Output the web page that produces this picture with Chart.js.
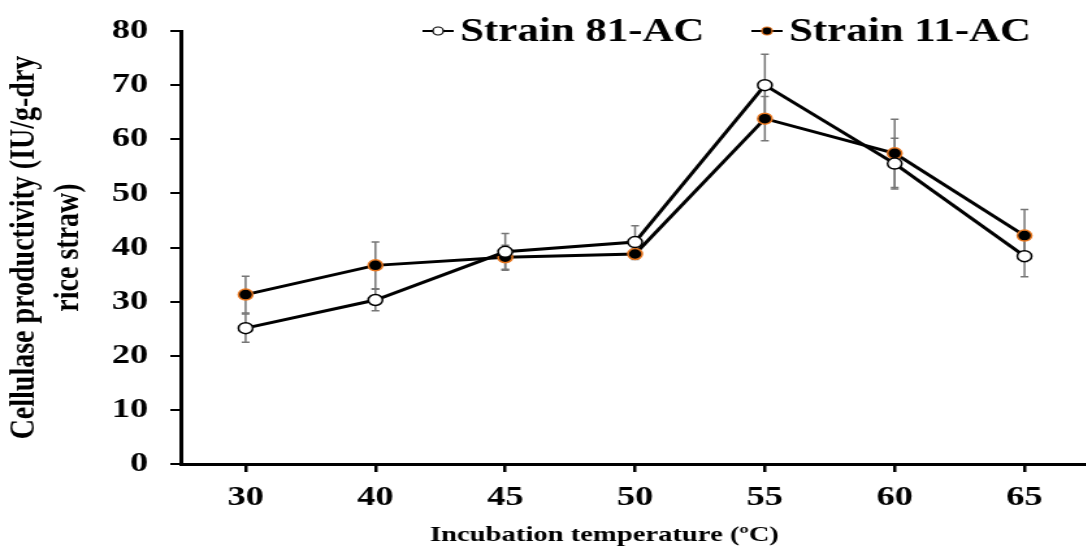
<!DOCTYPE html>
<html>
<head>
<meta charset="utf-8">
<script src="https://cdn.jsdelivr.net/npm/chart.js@4"></script>
<style>
  html, body { margin: 0; padding: 0; background: #fff; overflow: hidden; }
  #wrap { width: 845px; height: 552px; transform: scaleX(1.3); transform-origin: 0 0; }
</style>
</head>
<body>
<div id="wrap"><canvas id="chart" width="845" height="552"></canvas></div>
<script>
const temperatures = ['30', '40', '45', '50', '55', '60', '65'];
const strain81 = [25.1, 30.3, 39.2, 41.0, 70.0, 55.5, 38.4];
const strain81Err = [2.6, 2.0, 3.4, 3.0, 5.7, 4.7, 3.8];
const strain11 = [31.3, 36.7, 38.2, 38.8, 63.8, 57.4, 42.2];
const strain11Err = [3.4, 4.3, 2.2, 1.0, 4.1, 6.3, 4.8];
const yTicks = [0, 10, 20, 30, 40, 50, 60, 70, 80];

const serif = "'Liberation Serif', 'Times New Roman', serif";

// error bars, drawn under the markers
const errorBars = {
  id: 'errorBars',
  beforeDatasetsDraw(chart) {
    const ctx = chart.ctx;
    const x = chart.scales.x;
    const y = chart.scales.y;
    ctx.save();
    ctx.strokeStyle = '#767676';
    ctx.lineWidth = 1.5;
    chart.data.datasets.forEach(ds => {
      ds.data.forEach((v, i) => {
        const px = x.getPixelForValue(i);
        const top = y.getPixelForValue(v + ds.errors[i]);
        const bot = y.getPixelForValue(v - ds.errors[i]);
        ctx.beginPath();
        ctx.moveTo(px, top); ctx.lineTo(px, bot);
        ctx.moveTo(px - 3, top); ctx.lineTo(px + 3, top);
        ctx.moveTo(px - 3, bot); ctx.lineTo(px + 3, bot);
        ctx.stroke();
      });
    });
    ctx.restore();
  }
};

// legend across the top, plus the x axis title
const labelsPlugin = {
  id: 'labels',
  afterDraw(chart) {
    const ctx = chart.ctx;
    ctx.save();
    ctx.fillStyle = '#000';
    ctx.textBaseline = 'middle';
    ctx.font = 'bold 33px ' + serif;
    const starts = [325, 578];
    chart.data.datasets.forEach((ds, i) => {
      const lx = starts[i];
      const ly = 31;
      ctx.strokeStyle = '#000';
      ctx.lineWidth = 2;
      ctx.beginPath();
      ctx.moveTo(lx, ly); ctx.lineTo(lx + 24, ly);
      ctx.stroke();
      ctx.beginPath();
      ctx.arc(lx + 12, ly, 4, 0, Math.PI * 2);
      ctx.fillStyle = ds.pointBackgroundColor;
      ctx.fill();
      ctx.lineWidth = 1.2;
      ctx.strokeStyle = ds.pointBorderColor;
      ctx.stroke();
      ctx.fillStyle = '#000';
      ctx.textAlign = 'left';
      ctx.fillText(ds.label, lx + 29, ly + 1);
    });
    ctx.font = 'bold 22px ' + serif;
    ctx.textAlign = 'center';
    ctx.fillText('Incubation temperature (ºC)', 465, 535);
    ctx.restore();
  }
};

new Chart(document.getElementById('chart'), {
  type: 'line',
  data: {
    labels: temperatures,
    datasets: [
      {
        label: 'Strain 81-AC',
        data: strain81,
        errors: strain81Err,
        borderColor: '#000',
        borderWidth: 3,
        pointRadius: 5.5,
        pointBackgroundColor: '#fff',
        pointBorderColor: '#000',
        pointBorderWidth: 1.5,
        tension: 0
      },
      {
        label: 'Strain 11-AC',
        data: strain11,
        errors: strain11Err,
        borderColor: '#000',
        borderWidth: 3,
        pointRadius: 5.5,
        pointBackgroundColor: '#000',
        pointBorderColor: '#e8761e',
        pointBorderWidth: 1.5,
        tension: 0
      }
    ]
  },
  options: {
    responsive: false,
    animation: false,
    layout: { padding: { left: 0, right: 6, top: 29, bottom: 0 } },
    plugins: {
      legend: { display: false },
      tooltip: { enabled: false }
    },
    scales: {
      x: {
        offset: true,
        afterFit: s => { s.height = 88; },
        border: { color: '#000', width: 3 },
        grid: { drawOnChartArea: false, color: '#000', lineWidth: 2.5, tickLength: 8 },
        ticks: { color: '#000', padding: 9, font: { family: serif, size: 28, weight: 'bold' } }
      },
      y: {
        min: 0,
        max: 80,
        afterFit: s => { s.width = 139; },
        afterBuildTicks: s => { s.ticks = yTicks.map(v => ({ value: v })); },
        border: { color: '#000', width: 3 },
        grid: { drawOnChartArea: false, color: '#000', lineWidth: 2, tickLength: 8 },
        ticks: { color: '#000', padding: 17, font: { family: serif, size: 28, weight: 'bold', lineHeight: 1 } },
        title: {
          display: true,
          text: ['Cellulase productivity (IU/g-dry', 'rice straw)'],
          color: '#000',
          padding: { top: 2, bottom: 0 },
          font: { family: serif, size: 28, weight: 'bold' }
        }
      }
    }
  },
  plugins: [errorBars, labelsPlugin]
});
</script>
</body>
</html>
